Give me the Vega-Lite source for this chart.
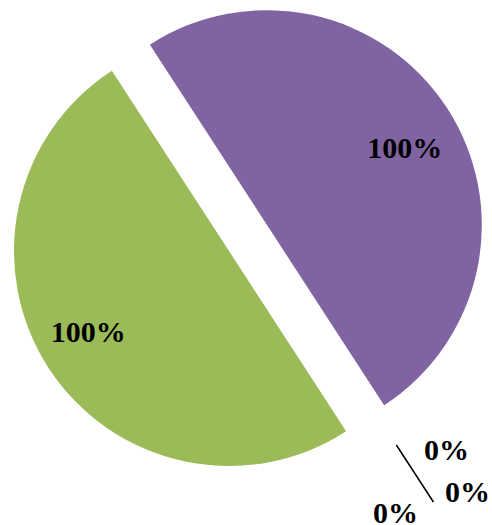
{
  "$schema": "https://vega.github.io/schema/vega-lite/v6.json",
  "autosize": {"type": "none"},
  "width": 488,
  "height": 476,
  "padding": {"left": 4, "top": 0, "right": 0, "bottom": 49},
  "background": "white",
  "config": {"view": {"stroke": null}},
  "data": {"values": [
    {"k": 1, "name": "A", "value": 50, "label": "100%"},
    {"k": 2, "name": "B", "value": 0, "label": "0%"},
    {"k": 3, "name": "C", "value": 0, "label": "0%"},
    {"k": 4, "name": "D", "value": 0, "label": "0%"},
    {"k": 5, "name": "E", "value": 50, "label": "100%"}
  ]},
  "encoding": {
    "theta": {"field": "value", "type": "quantitative", "stack": true, "scale": {"range": [-0.576, 5.707]}},
    "order": {"field": "k", "type": "quantitative"}
  },
  "layer": [
    {
      "mark": {"type": "arc", "outerRadius": 215, "xOffset": 19, "yOffset": -13, "color": "#8064A2"},
      "encoding": {"opacity": {"condition": {"test": "datum.k === 1", "value": 1}, "value": 0}}
    },
    {
      "mark": {"type": "arc", "outerRadius": 215, "xOffset": -19, "yOffset": 13, "color": "#9BBB59"},
      "encoding": {"opacity": {"condition": {"test": "datum.k === 5", "value": 1}, "value": 0}}
    },
    {
      "mark": {"type": "arc", "innerRadius": 254, "outerRadius": 322, "xOffset": 10, "yOffset": -6, "filled": false, "color": "black", "strokeWidth": 1.5},
      "encoding": {"opacity": {"condition": {"test": "datum.k === 2", "value": 1}, "value": 0}}
    },
    {
      "mark": {"type": "text", "radius": 157, "xOffset": 25, "yOffset": -3, "font": "Liberation Serif", "fontWeight": "bold", "fontSize": 30, "color": "black"},
      "encoding": {"text": {"field": "label"}, "opacity": {"condition": {"test": "datum.k === 1", "value": 1}, "value": 0}}
    },
    {
      "mark": {"type": "text", "radius": 163, "xOffset": -23, "yOffset": 6, "font": "Liberation Serif", "fontWeight": "bold", "fontSize": 30, "color": "black"},
      "encoding": {"text": {"field": "label"}, "opacity": {"condition": {"test": "datum.k === 5", "value": 1}, "value": 0}}
    },
    {
      "mark": {"type": "text", "radius": 300, "xOffset": 35, "yOffset": -39, "font": "Liberation Serif", "fontWeight": "bold", "fontSize": 30, "color": "black"},
      "encoding": {"text": {"field": "label"}, "opacity": {"condition": {"test": "datum.k === 2", "value": 1}, "value": 0}}
    },
    {
      "mark": {"type": "text", "radius": 300, "xOffset": 56, "yOffset": 3, "font": "Liberation Serif", "fontWeight": "bold", "fontSize": 30, "color": "black"},
      "encoding": {"text": {"field": "label"}, "opacity": {"condition": {"test": "datum.k === 3", "value": 1}, "value": 0}}
    },
    {
      "mark": {"type": "text", "radius": 300, "xOffset": -16, "yOffset": 24, "font": "Liberation Serif", "fontWeight": "bold", "fontSize": 30, "color": "black"},
      "encoding": {"text": {"field": "label"}, "opacity": {"condition": {"test": "datum.k === 4", "value": 1}, "value": 0}}
    }
  ]
}
